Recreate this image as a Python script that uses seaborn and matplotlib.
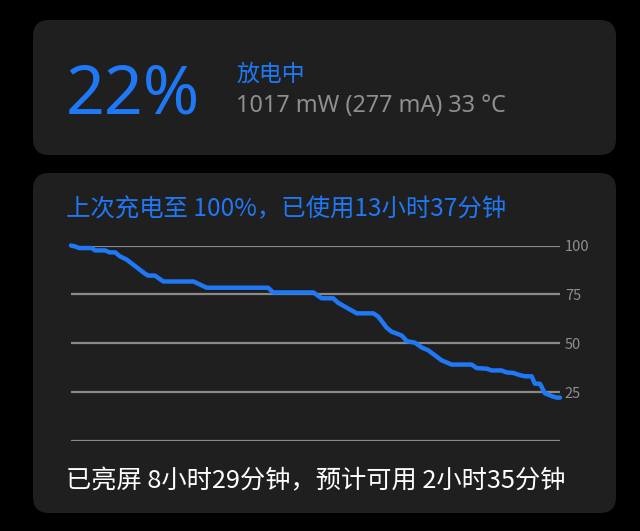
import pandas as pd
import matplotlib.pyplot as plt
import seaborn as sns
from matplotlib.patches import FancyBboxPatch

# battery level since last full charge (hours elapsed, percent)
hours = [0, 0.11, 0.23, 0.58, 0.67, 0.95, 1.07, 1.23, 1.36, 1.55, 2.06, 2.15, 2.34,
         2.57, 3.41, 3.78, 5.49, 5.63, 6.75, 6.98, 7.30, 7.44, 7.68, 7.96, 8.42,
         8.56, 8.79, 8.93, 9.21, 9.35, 9.58, 9.77, 9.95, 10.32, 10.60, 11.16, 11.30,
         11.58, 11.71, 11.99, 12.13, 12.32, 12.50, 12.64, 12.83, 12.92, 13.06,
         13.20, 13.43, 13.53, 13.62]
level = [100, 99.5, 98.7, 98.7, 97.5, 97.5, 96.5, 96.5, 94.5, 92.8, 85.6, 84.6, 84.6,
         81.6, 81.6, 78.4, 78.4, 76, 76, 73, 73, 70.7, 68.2, 65.3, 65.3,
         63.6, 58, 55.9, 54, 51.1, 50.3, 47.8, 46.4, 41.3, 39.1, 39.1, 37.3,
         37, 36.1, 36.1, 35.1, 34.8, 33.7, 33.1, 33.1, 29.3, 29.3,
         24.4, 22.7, 22.2, 22.2]
yticks = [0, 25, 50, 75, 100]
ylabels = ['', '25', '50', '75', '100']

percent = '22%'
status = '放电中'
power_info = '1017 mW (277 mA) 33 °C'
title = '上次充电至 100%，已使用13小时37分钟'
footer = '已亮屏 8小时29分钟，预计可用 2小时35分钟'

blue = '#1f78f5'
panel = '#1f1f1f'

sns.set_theme(style="dark")
plt.rcParams['font.family'] = ['Noto Sans CJK SC', 'DejaVu Sans']

W, H = 640, 531
fig = plt.figure(figsize=(6.4, 5.31), dpi=100, facecolor='black')

def px(x, y):
    return x / W, 1 - y / H

# rounded panels
for (x0, y0, x1, y1) in [(33, 20, 616, 155), (33, 173, 616, 513)]:
    fx, fy = px(x0, y1)
    fig.patches.append(FancyBboxPatch(
        (fx, fy), (x1 - x0) / W, (y1 - y0) / H,
        boxstyle="round,pad=0,rounding_size=0.025",
        transform=fig.transFigure, facecolor=panel, edgecolor='none',
        mutation_aspect=W / H, zorder=-5))

fig.text(*px(66, 114), percent, color=blue, fontsize=49, va='baseline',
         ha='left', family=['Noto Sans', 'DejaVu Sans'], fontweight='light')
fig.text(*px(236, 81), status, color=blue, fontsize=16.5, va='baseline', ha='left')
fig.text(*px(236, 112), power_info, color='#8f8f8f', fontsize=16.8, va='baseline',
         ha='left', family=['Noto Sans', 'DejaVu Sans'])
fig.text(*px(66, 216), title, color=blue, fontsize=17.6, va='baseline', ha='left')
fig.text(*px(66, 488), footer, color='white', fontsize=18.2, va='baseline', ha='left')

# chart area
top, bottom = 245.5, 441
ax = fig.add_axes([71 / W, 1 - bottom / H, (560 - 71) / W, (bottom - top) / H])
ax.set_facecolor('none')
ax.set_zorder(2)
df = pd.DataFrame({'hours': hours, 'level': level})
sns.lineplot(data=df, x='hours', y='level', ax=ax, color=blue, linewidth=3.2,
             clip_on=False, zorder=3)
ax.set_xlim(0, hours[-1])
ax.set_ylim(0, 100)
ax.set_yticks(yticks)
ax.set_yticklabels(ylabels)
ax.yaxis.tick_right()
ax.tick_params(axis='y', length=0, pad=3.5, labelsize=10.5, labelcolor='#8f8f8f')
ax.set_xticks([])
ax.grid(axis='y', color='#8a8a8a', linewidth=1.6)
ax.grid(axis='x', visible=False)
for s in ax.spines.values():
    s.set_visible(False)
ax.set_xlabel('')
ax.set_ylabel('')

plt.savefig('out.png', dpi=100, facecolor='black')
